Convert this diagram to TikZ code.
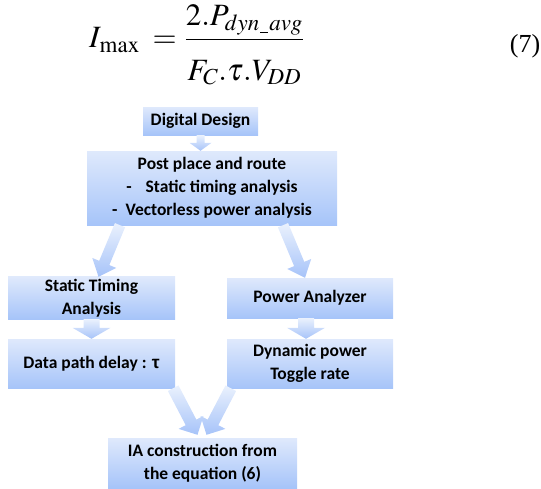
\documentclass[tikz,border=0pt]{standalone}
\usepackage{mathptmx}
\usepackage[no-math]{fontspec}
\setmainfont{Carlito}
\newfontfamily\timesfont{Liberation Serif}
\usetikzlibrary{positioning, calc}
\definecolor{colorBoxTop}{RGB}{223, 233, 252}
\definecolor{colorBoxBot}{RGB}{166, 196, 249}
\definecolor{colorArrTop}{RGB}{234, 241, 253}
\definecolor{colorArrBot}{RGB}{166, 195, 249}
\tikzstyle{process} = [rectangle, inner sep=2pt, align=center, text centered, font=\bfseries\fontsize{17.5}{23}\selectfont, top color=colorBoxTop, bottom color=colorBoxBot, draw=none]
\tikzstyle{equation} = [inner sep=0pt, font=\fontsize{31}{36}\selectfont]

% block arrow: from, to, half shaft, half head, head length
\newcommand{\blockarrow}[5]{%
	\coordinate (tmpHead) at ($(#2)!#5!(#1)$);
	\shade[top color=colorArrTop, bottom color=colorArrBot]
		($(#1)!#3!90:(#2)$) -- ($(tmpHead)!#3!90:(#2)$) -- ($(tmpHead)!#4!90:(#2)$) -- (#2)
		-- ($(tmpHead)!#4!-90:(#2)$) -- ($(tmpHead)!#3!-90:(#2)$) -- ($(#1)!#3!-90:(#2)$) -- cycle;
}

\begin{document}
\begin{tikzpicture}[x=1pt, y=-1pt]

	\useasboundingbox (0,0) rectangle (541,488);

	% equation
	\node (eqMain)[equation, anchor=west] at (89,45) {$\displaystyle I_{\hspace{1pt}\mathrm{max}}\hspace{6pt}=\hspace{1pt}\frac{2.P_{dyn\kern1pt\vrule height -1pt depth 2.2pt width 8pt\kern1pt avg}}{\rule{0pt}{36pt}F_C.\tau.V_{DD}}$};
	\node (eqNum)[inner sep=0pt] at (525,46) {\timesfont\fontsize{26}{30}\selectfont (7)};

	% boxes
	\node (bDigital)[process, minimum width=115pt, minimum height=28pt] at (200.5,121) {Digital Design};
	\node (bPost)[process, minimum width=250pt, minimum height=74pt] at (212,188) {Post place and route \\ -\hspace{14pt}Static timing analysis \\ -\hspace{8pt}Vectorless power analysis};

	\node (bSTA)[process, minimum width=167pt, minimum height=40pt] at (91.5,298) {Static Timing \\ Analysis};
	\node (bPA)[process, minimum width=166pt, minimum height=40pt] at (310,298) {Power Analyzer};

	\node (bDP)[process, minimum width=167pt, minimum height=49pt] at (91.5,363.5) {Data path delay : \fontspec{Liberation Sans}\bfseries τ};
	\node (bDyn)[process, minimum width=166pt, minimum height=49pt] at (310,363.5) {Dynamic power \\ Toggle rate};

	\node (bIA)[process, minimum width=189pt, minimum height=50pt] at (202.5,463) {IA construction from \\ the equation (6)};

	% arrows
	\blockarrow{bDigital.south}{bDigital.south |- bPost.north}{4pt}{11pt}{8pt}

	\blockarrow{$(bPost.south)+(-92,0)$}{$(bSTA.north)+(7,0)$}{5.5pt}{13pt}{15pt}
	\blockarrow{$(bPost.south)+(71,0)$}{$(bPA.north)+(-5,0)$}{5.5pt}{13pt}{15pt}

	\blockarrow{bSTA.south}{bDP.north}{8pt}{19pt}{11pt}
	\blockarrow{$(bPA.south)+(-4,0)$}{$(bDyn.north)+(-4,0)$}{8pt}{19pt}{11pt}

	\blockarrow{$(bDP.south east)+(-2,0)$}{$(bIA.north)+(-5,-3)$}{6pt}{14pt}{14pt}
	\blockarrow{$(bDyn.south west)+(4,0)$}{$(bIA.north)+(4,-3)$}{6pt}{14pt}{14pt}

\end{tikzpicture}
\end{document}
